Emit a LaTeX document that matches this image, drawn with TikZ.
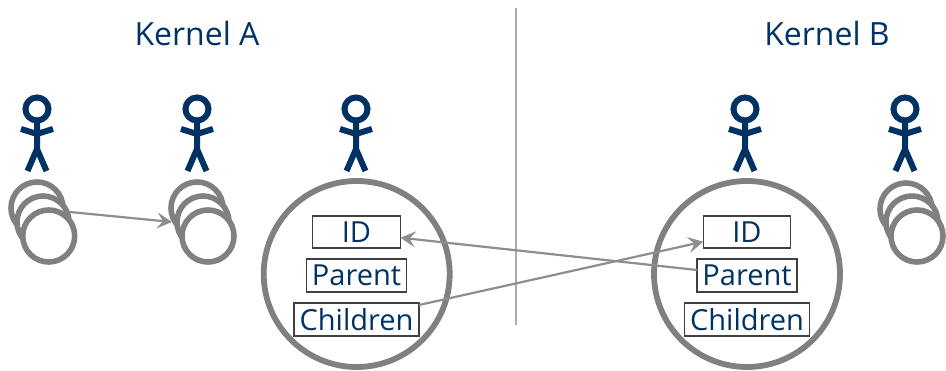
\documentclass[tikz,border=0pt]{standalone}
\usepackage{fontspec}
\setmainfont{Open Sans}
\usetikzlibrary{arrows.meta}
\definecolor{navy}{HTML}{003263}
\definecolor{ring}{HTML}{808080}
\definecolor{conn}{HTML}{8E8E8E}
\definecolor{divider}{HTML}{ABABAB}
\tikzset{
  x=1pt,y=-1pt,
  smallproc/.style={circle,draw=ring,line width=5.6pt,fill=white,minimum size=52pt,inner sep=0pt,outer sep=0pt},
  bigproc/.style={circle,draw=ring,line width=5.8pt,fill=white,minimum size=186pt,inner sep=0pt,outer sep=0pt},
  field/.style={draw=black!75,line width=1.2pt,fill=white,text=navy,inner sep=0pt,outer sep=0pt,font=\fontsize{29}{29}\selectfont,anchor=center,text height=21pt,text depth=0pt},
  title/.style={text=navy,font=\fontsize{32}{32}\selectfont,inner sep=0pt},
  link/.style={draw=conn,line width=2.2pt,-{Stealth[length=15pt,width=16pt,inset=6pt]}},
  stick/.style={draw=navy,line width=6pt},
  pics/actor/.style={code={
    \draw[stick] (0,-26) circle (11.5);
    \draw[stick] (0,-12) -- (0,14) (-16,-6) -- (0,-1) -- (16,-6) (-9.5,36) -- (0,14) -- (9.5,36);
  }}
}
\begin{document}
\begin{tikzpicture}
\useasboundingbox (0,0) rectangle (946,371);
\node[title] (ka) at (197,34) {Kernel A};
\node[title] (kb) at (827,34) {Kernel B};
\coordinate (dtop) at (516,8);
\coordinate (dbot) at (516,325);
\draw[divider,line width=1.6pt] (dtop) -- (dbot);
\pic at (37,135) {actor};
\pic at (197,135) {actor};
\pic at (356,135) {actor};
\pic at (745,135) {actor};
\pic at (905,135) {actor};
\node[smallproc] (a1) at (37,208) {};
\node[smallproc] (a2) at (43,222) {};
\node[smallproc] (a3) at (48.7,236) {};
\node[smallproc] (b1) at (197,208) {};
\node[smallproc] (b2) at (203,222) {};
\node[smallproc] (b3) at (208,236) {};
\node[smallproc] (c1) at (906,209) {};
\node[smallproc] (c2) at (912,222) {};
\node[smallproc] (c3) at (917,236) {};
\node[bigproc] (pa) at (356.7,274) {};
\node[bigproc] (pb) at (747,274) {};
\node[field,minimum width=88pt,minimum height=32pt] (ida) at (356.5,232) {ID};
\node[field,minimum width=100pt,minimum height=33pt] (para) at (356.5,275.5) {Parent};
\node[field,minimum width=125pt,minimum height=33pt,text height=22pt] (cha) at (356.5,319.5) {Children};
\node[field,minimum width=87.5pt,minimum height=32pt] (idb) at (747,232) {ID};
\node[field,minimum width=100pt,minimum height=33pt] (parb) at (747,275.5) {Parent};
\node[field,minimum width=125pt,minimum height=33pt,text height=22pt] (chb) at (747,319.5) {Children};
\draw[link] ([xshift=3pt,yshift=5.6pt]a3.north east) -- ([xshift=-10pt,yshift=14pt]b3.west);
\draw[link] ([yshift=5.5pt]parb.west) -- ([yshift=-5.7pt]ida.east);
\draw[link] ([yshift=14.5pt]cha.east) -- ([yshift=-9.7pt]idb.west);
\end{tikzpicture}
\end{document}
